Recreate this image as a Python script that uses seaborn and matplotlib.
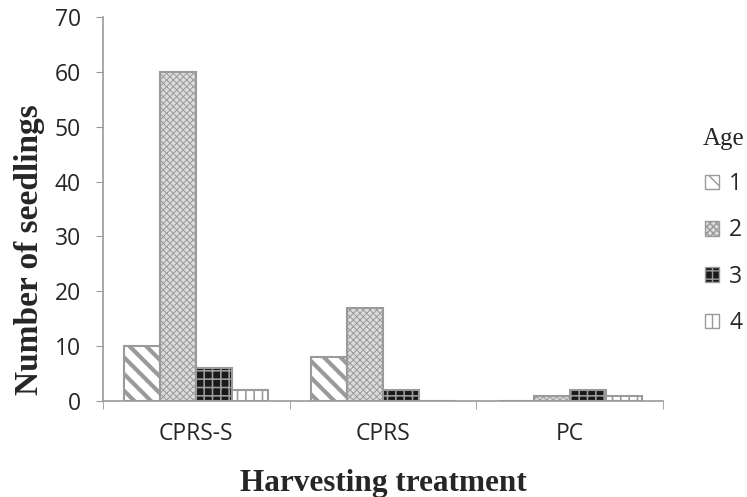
import pandas as pd
import matplotlib
matplotlib.use("Agg")
import matplotlib.pyplot as plt
import seaborn as sns

# ----------------------------
# Dados
# ----------------------------
tratamentos = ["CPRS-S", "CPRS", "PC"]
idades = ["1", "2", "3", "4"]
idade1 = [10, 8, 0]
idade2 = [60, 17, 1]
idade3 = [6, 2, 2]
idade4 = [2, 0, 1]

df = pd.DataFrame({
    "Tratamento": tratamentos * 4,
    "Age": [a for a in idades for _ in tratamentos],
    "Valor": idade1 + idade2 + idade3 + idade4,
})

sns.set_style("white")
plt.rcParams["font.family"] = ["Open Sans", "DejaVu Sans"]

# estilos de cada idade (face, hachura, espessura da hachura)
estilos = {
    "1": ("white", "\\\\", 3.0),
    "2": ("#dcdcdc", "xxxxx", 0.7),
    "3": ("#1a1a1a", "++", 1.2),
    "4": ("white", "||", 1.2),
}
cinza = "#9a9a9a"

fig = plt.figure(figsize=(7.47, 4.97), dpi=100)
ax = fig.add_axes([103 / 747, 1 - 401 / 497, 560 / 747, 384 / 497])

sns.barplot(data=df, x="Tratamento", y="Valor", hue="Age", order=tratamentos,
            hue_order=idades, width=0.77, gap=0, ax=ax, legend=False)

for cont, idade in zip(ax.containers, idades):
    face, hatch, hlw = estilos[idade]
    for bar in cont:
        bar.set_facecolor(face)
        bar.set_edgecolor(cinza)
        bar.set_hatch(hatch)
        bar.set_linewidth(1.5)
        try:
            bar.set_hatch_linewidth(hlw)
        except AttributeError:
            pass

# eixos
ax.set_ylim(0, 70)
ax.set_xlim(-0.5, 2.5)
ax.set_yticks(range(0, 71, 10))
ax.tick_params(axis="y", labelsize=16.5, length=5, color=cinza, direction="out", left=True, pad=11)
ax.set_xticks([-0.5, 0.5, 1.5, 2.5], minor=True)
ax.tick_params(axis="x", which="minor", length=6, color=cinza, direction="out", bottom=True)
ax.tick_params(axis="x", which="major", length=0, labelsize=16.5, pad=15)

for lado in ["top", "right"]:
    ax.spines[lado].set_visible(False)
for lado in ["left", "bottom"]:
    ax.spines[lado].set_color(cinza)
    ax.spines[lado].set_linewidth(1.2)

ax.set_xlabel("Harvesting treatment", fontsize=22.5, fontweight="bold",
              family="Liberation Serif")
ax.set_ylabel("Number of seedlings", fontsize=24, fontweight="bold",
              family="Liberation Serif")
ax.xaxis.set_label_coords(0.5, -0.176)
ax.yaxis.set_label_coords(-0.103, 0.395)

# legenda
handles = []
for idade in idades:
    face, hatch, hlw = estilos[idade]
    p = plt.Rectangle((0, 0), 1, 1, facecolor=face, edgecolor=cinza, hatch=hatch)
    handles.append(p)
leg = fig.legend(handles, idades, loc="upper left", bbox_to_anchor=(703 / 747, 1 - 128 / 497),
                 frameon=False, fontsize=16.5, title="Age", handlelength=0.6,
                 handleheight=0.6, handletextpad=0.45, labelspacing=0.97,
                 borderpad=0, borderaxespad=0)
leg.get_title().set_fontfamily("Liberation Serif")
leg.get_title().set_fontsize(18)

fig.savefig("out.png", dpi=100)
